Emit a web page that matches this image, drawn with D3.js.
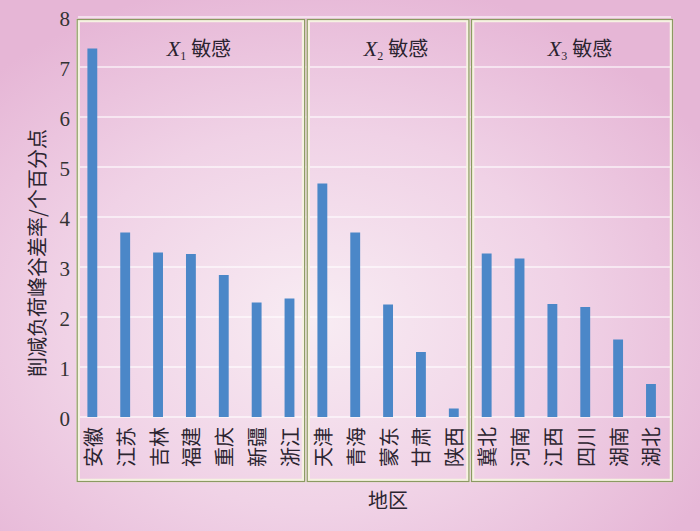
<!DOCTYPE html>
<html>
<head>
<meta charset="utf-8">
<script src="https://cdn.jsdelivr.net/npm/d3@7"></script>
<style>
  body { margin: 0; }
  svg { display: block; }
</style>
</head>
<body>
<div class="content"></div>
<script>
const regions = ['安徽', '江苏', '吉林', '福建', '重庆', '新疆', '浙江',
  '天津', '青海', '蒙东', '甘肃', '陕西',
  '冀北', '河南', '江西', '四川', '湖南', '湖北'];
const values = [7.37, 3.69, 3.29, 3.26, 2.84, 2.29, 2.37,
  4.67, 3.69, 2.25, 1.30, 0.17,
  3.27, 3.17, 2.26, 2.20, 1.55, 0.66];
const groupNames = ['1', '2', '3'];
const groupMembers = [regions.slice(0, 7), regions.slice(7, 12), regions.slice(12)];
const yTicks = [0, 1, 2, 3, 4, 5, 6, 7, 8];
const yTitle = '削减负荷峰谷差率/个百分点';
const xTitle = '地区';

const [svgWidth, svgHeight] = [700, 531];
const serif = '"Liberation Serif", "DejaVu Serif", serif';
const cjk = '"Noto Sans CJK SC", sans-serif';

const svg = d3.select('.content')
  .append('svg')
  .attr('width', svgWidth)
  .attr('height', svgHeight);

// pink background, lighter toward the middle
const grad = svg.append('defs')
  .append('radialGradient')
  .attr('id', 'bg')
  .attr('cx', '0.45').attr('cy', '0.6').attr('r', '0.65');
grad.append('stop').attr('offset', '0%').attr('stop-color', '#f8ecf3');
grad.append('stop').attr('offset', '55%').attr('stop-color', '#f0d2e6');
grad.append('stop').attr('offset', '100%').attr('stop-color', '#e6b6d6');
svg.append('rect')
  .attr('width', svgWidth).attr('height', svgHeight)
  .attr('fill', 'url(#bg)');

const x = d3.scaleBand()
  .domain(regions)
  .range([75.9, 667.4])
  .paddingInner(0.7)
  .paddingOuter(0.35);
const y = d3.scaleLinear()
  .domain([0, 8])
  .range([417, 17]);
const cx = d => x(d) + x.bandwidth() / 2;

// gridlines
svg.append('g')
  .selectAll('line')
  .data(yTicks)
  .enter()
  .append('line')
  .attr('x1', 78).attr('x2', 671)
  .attr('y1', d => y(d)).attr('y2', d => y(d))
  .attr('stroke', '#ffffff')
  .attr('stroke-opacity', 0.75)
  .attr('stroke-width', 1.5);

// y tick labels
svg.append('g')
  .selectAll('text')
  .data(yTicks)
  .enter()
  .append('text')
  .attr('x', 70)
  .attr('y', d => y(d) + 2)
  .attr('text-anchor', 'end')
  .attr('dominant-baseline', 'central')
  .attr('font-family', serif)
  .attr('font-size', 21)
  .attr('fill', '#333')
  .text(d => d);

// group boxes
const step = x.step();
const boxes = groupMembers.map((m, i) => {
  const x0 = cx(m[0]) - step * 0.43;
  const x1 = i === groupMembers.length - 1 ? 671.5 : cx(m[m.length - 1]) + step * 0.43;
  return {x0, x1, name: groupNames[i]};
});
const box = svg.append('g')
  .selectAll('g')
  .data(boxes)
  .enter()
  .append('g');
box.append('rect')
  .attr('x', d => d.x0).attr('y', 20.5)
  .attr('width', d => d.x1 - d.x0).attr('height', 460)
  .attr('fill', 'none')
  .attr('stroke', '#f6f2e2')
  .attr('stroke-width', 3.5);
box.append('rect')
  .attr('x', d => d.x0 - 1).attr('y', 19.5)
  .attr('width', d => d.x1 - d.x0 + 2).attr('height', 462)
  .attr('fill', 'none')
  .attr('stroke', '#8b9a62')
  .attr('stroke-width', 1.2);

const title = box.append('text')
  .attr('x', d => (d.x0 + d.x1) / 2 + 8)
  .attr('y', 56)
  .attr('text-anchor', 'middle')
  .attr('fill', '#2b2430');
title.append('tspan')
  .attr('font-family', serif)
  .attr('font-style', 'italic')
  .attr('font-size', 22)
  .text('X');
title.append('tspan')
  .attr('font-family', serif)
  .attr('font-size', 12)
  .attr('dy', 4)
  .text(d => d.name);
title.append('tspan')
  .attr('font-family', cjk)
  .attr('font-size', 20)
  .attr('dy', -4)
  .attr('dx', 5)
  .text('敏感');

// bars
svg.append('g')
  .selectAll('rect')
  .data(regions)
  .enter()
  .append('rect')
  .attr('x', d => x(d))
  .attr('width', x.bandwidth())
  .attr('y', (d, i) => y(values[i]))
  .attr('height', (d, i) => y(0) - y(values[i]))
  .attr('fill', '#4b87c8');

// category labels, rotated
svg.append('g')
  .selectAll('text')
  .data(regions)
  .enter()
  .append('text')
  .attr('transform', d => `translate(${cx(d)}, 427) rotate(-90)`)
  .attr('text-anchor', 'end')
  .attr('dominant-baseline', 'central')
  .attr('font-family', cjk)
  .attr('font-size', 20)
  .attr('fill', '#2b2430')
  .text(d => d);

// axis titles
svg.append('text')
  .attr('transform', 'translate(36, 253) rotate(-90)')
  .attr('text-anchor', 'middle')
  .attr('dominant-baseline', 'central')
  .attr('font-family', cjk)
  .attr('font-size', 20)
  .attr('fill', '#2b2430')
  .text(yTitle);
svg.append('text')
  .attr('x', 388)
  .attr('y', 508)
  .attr('text-anchor', 'middle')
  .attr('font-family', cjk)
  .attr('font-size', 20)
  .attr('fill', '#2b2430')
  .text(xTitle);
</script>
</body>
</html>
